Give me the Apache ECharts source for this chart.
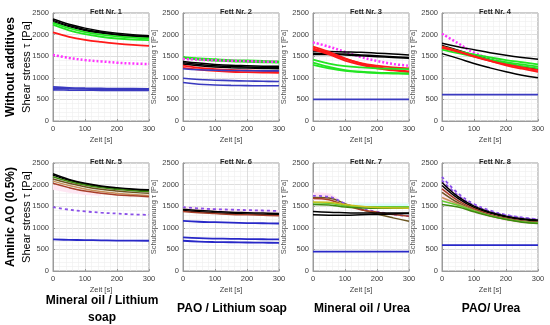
<!DOCTYPE html>
<html>
<head>
<meta charset="utf-8">
<script src="https://cdn.jsdelivr.net/npm/echarts@6/dist/echarts.min.js"></script>
<style>html,body{margin:0;padding:0;background:#fff}#c{width:550px;height:325px}</style>
</head>
<body>
<div id="c"></div>
<script>
const timeS = [0, 50, 100, 150, 200, 250, 300];
const panelTitles = ['Fett Nr. 1','Fett Nr. 2','Fett Nr. 3','Fett Nr. 4','Fett Nr. 5','Fett Nr. 6','Fett Nr. 7','Fett Nr. 8'];
const rowLabels = ['Without additives', 'Aminic AO (0.5%)'];
const colLabels = ['Mineral oil / Lithium\nsoap', 'PAO / Lithium soap', 'Mineral oil / Urea', 'PAO/ Urea'];
const yLabelMain = 'Shear stress \u03c4 [Pa]';
const yLabelSub = 'Schubspannung \u03c4 [Pa]';
const xLabel = 'Zeit [s]';

// Fett Nr. 1
const fett1 = [
  [2360, 2240, 2150, 2080, 2030, 1995, 1975],
  [2330, 2210, 2120, 2055, 2005, 1975, 1955],
  [2300, 2185, 2095, 2035, 1990, 1960, 1940],
  [2270, 2150, 2060, 2000, 1960, 1930, 1910],
  [2230, 2100, 2010, 1950, 1910, 1885, 1870],
  [2050, 1950, 1880, 1830, 1790, 1760, 1740],
  [1530, 1460, 1410, 1380, 1350, 1330, 1320],
  [790, 770, 760, 755, 750, 750, 745],
  [760, 745, 740, 735, 735, 730, 730],
  [720, 715, 712, 710, 710, 710, 710]
];
const fett1Keys = ['k','k','k','g','g','r','m','b','b','b'];

// Fett Nr. 2
const fett2 = [
  [1480, 1450, 1430, 1410, 1400, 1390, 1380],
  [1460, 1420, 1400, 1380, 1370, 1360, 1350],
  [1440, 1420, 1405, 1395, 1385, 1375, 1370],
  [1380, 1340, 1310, 1290, 1280, 1270, 1265],
  [1350, 1310, 1280, 1260, 1250, 1240, 1235],
  [1320, 1280, 1250, 1235, 1225, 1215, 1210],
  [1280, 1230, 1200, 1180, 1170, 1160, 1150],
  [1230, 1190, 1160, 1140, 1130, 1120, 1115],
  [1210, 1185, 1175, 1170, 1165, 1160, 1160],
  [990, 960, 945, 935, 925, 920, 915],
  [890, 850, 835, 825, 820, 815, 815]
];
const fett2Keys = ['g','g','m','k','k','k','r','r','b','b','b'];

// Fett Nr. 3
const fett3 = [
  [1820, 1720, 1600, 1480, 1390, 1320, 1280],
  [1620, 1610, 1600, 1590, 1570, 1550, 1530],
  [1570, 1560, 1550, 1530, 1510, 1490, 1470],
  [1540, 1540, 1530, 1510, 1490, 1470, 1450],
  [1720, 1600, 1450, 1330, 1250, 1190, 1150],
  [1680, 1570, 1440, 1340, 1280, 1240, 1220],
  [1650, 1540, 1400, 1300, 1220, 1170, 1130],
  [1420, 1330, 1270, 1240, 1220, 1210, 1200],
  [1350, 1250, 1180, 1140, 1120, 1110, 1100],
  [1300, 1220, 1160, 1130, 1110, 1100, 1090],
  [500, 500, 500, 500, 500, 500, 500]
];
const fett3Keys = ['m','k','k','k','r','r','r','g','g','g','b'];

// Fett Nr. 4
const fett4 = [
  [2020, 1800, 1580, 1450, 1340, 1250, 1180],
  [1800, 1720, 1650, 1580, 1520, 1470, 1430],
  [1750, 1640, 1520, 1420, 1330, 1260, 1200],
  [1560, 1450, 1330, 1230, 1140, 1060, 1000],
  [1700, 1620, 1540, 1470, 1410, 1360, 1310],
  [1650, 1570, 1490, 1420, 1360, 1310, 1260],
  [1720, 1620, 1510, 1410, 1330, 1270, 1220],
  [1720, 1620, 1500, 1390, 1290, 1210, 1140],
  [1690, 1600, 1490, 1390, 1310, 1240, 1180],
  [610, 610, 610, 610, 610, 610, 610]
];
const fett4Keys = ['m','k','k','k','g','g','g','r','r','b'];

// Fett Nr. 5
const fett5 = [
  [2250, 2120, 2030, 1970, 1930, 1900, 1880],
  [2220, 2100, 2010, 1950, 1910, 1880, 1860],
  [2180, 2070, 1990, 1930, 1890, 1860, 1840],
  [2130, 2030, 1950, 1890, 1850, 1820, 1800],
  [2080, 1980, 1900, 1840, 1800, 1770, 1750],
  [2030, 1930, 1850, 1800, 1760, 1740, 1720],
  [1480, 1420, 1380, 1350, 1330, 1310, 1300],
  [730, 720, 715, 710, 705, 705, 700]
];
const fett5Keys = ['k','k','dg','ol','tan','rb','pd','b2'];

// Fett Nr. 6
const fett6 = [
  [1480, 1450, 1430, 1420, 1410, 1400, 1390],
  [1430, 1400, 1380, 1360, 1350, 1340, 1330],
  [1400, 1370, 1350, 1330, 1320, 1310, 1300],
  [1380, 1350, 1330, 1310, 1300, 1290, 1280],
  [1160, 1140, 1130, 1120, 1110, 1105, 1100],
  [780, 760, 750, 745, 740, 735, 730],
  [700, 680, 670, 665, 660, 655, 650]
];
const fett6Keys = ['pd','k','k','rb','b2','b2','b2'];

// Fett Nr. 7
const fett7 = [
  [1700, 1690, 1560, 1430, 1320, 1230, 1150],
  [1740, 1720, 1560, 1440, 1370, 1310, 1270],
  [1680, 1650, 1520, 1420, 1360, 1310, 1270],
  [1580, 1570, 1510, 1490, 1490, 1490, 1490],
  [1540, 1530, 1480, 1460, 1450, 1450, 1450],
  [1600, 1590, 1540, 1500, 1470, 1460, 1450],
  [1380, 1360, 1350, 1340, 1340, 1340, 1340],
  [1300, 1290, 1290, 1300, 1310, 1320, 1330],
  [450, 450, 450, 450, 450, 450, 450]
];
const fett7Keys = ['ol','pd','rb','lg','dg','yl','k','k','b2'];

// Fett Nr. 8
const fett8 = [
  [2180, 1800, 1550, 1400, 1300, 1240, 1200],
  [2100, 1750, 1520, 1380, 1290, 1230, 1190],
  [2050, 1720, 1500, 1360, 1270, 1210, 1180],
  [1980, 1680, 1470, 1340, 1250, 1190, 1160],
  [1900, 1630, 1440, 1310, 1220, 1160, 1130],
  [1820, 1580, 1410, 1290, 1210, 1150, 1120],
  [1700, 1550, 1400, 1280, 1200, 1140, 1110],
  [1620, 1520, 1390, 1280, 1200, 1140, 1110],
  [1540, 1480, 1370, 1270, 1190, 1130, 1100],
  [600, 600, 600, 600, 600, 600, 600]
];
const fett8Keys = ['pd','pd','k','k','rb','ol','tan','lg','dg','b2'];

// faint scatter bands
const band5Time = [0, 50, 100, 150];
const band5Low  = [1880, 1810, 1760, 1740];
const band5High = [2010, 1920, 1850, 1800];
const band6Time = [0, 50, 100, 150, 200, 250, 300];
const band6Low  = [1380, 1360, 1350, 1340, 1330, 1320, 1310];
const band6High = [1500, 1470, 1450, 1440, 1430, 1420, 1410];
const band7aTime = [0, 25, 50, 75];
const band7aLow  = [1640, 1640, 1620, 1560];
const band7aHigh = [1820, 1820, 1800, 1700];
const band7bTime = [125, 150, 200, 250, 300];
const band7bLow  = [1480, 1470, 1460, 1450, 1450];
const band7bHigh = [1560, 1560, 1560, 1560, 1560];
const band8Time = [0, 50, 100, 150, 200, 250, 300];
const band8Low  = [1650, 1480, 1330, 1230, 1150, 1100, 1080];
const band8High = [2100, 1780, 1540, 1400, 1300, 1240, 1200];

const bands = [
  {panel: 4, t: band5Time, lo: band5Low, hi: band5High, color: '#fde6f2'},
  {panel: 5, t: band6Time, lo: band6Low, hi: band6High, color: '#fde6f2'},
  {panel: 6, t: band7aTime, lo: band7aLow, hi: band7aHigh, color: '#fde0f1'},
  {panel: 6, t: band7bTime, lo: band7bLow, hi: band7bHigh, color: '#d9fbfa'},
  {panel: 7, t: band8Time, lo: band8Low, hi: band8High, color: '#fde6f2'}
];

const panels = [fett1, fett2, fett3, fett4, fett5, fett6, fett7, fett8];
const panelKeys = [fett1Keys, fett2Keys, fett3Keys, fett4Keys, fett5Keys, fett6Keys, fett7Keys, fett8Keys];

const styles = {
  k:  {color: '#000000', type: 'solid', width: 1.5},
  g:  {color: '#22e522', type: 'solid', width: 1.8},
  r:  {color: '#ff1a1a', type: 'solid', width: 1.8},
  m:  {color: '#ff33ff', type: [2, 2], width: 2.5},
  b:  {color: '#3a3ac0', type: 'solid', width: 1.6},
  dg: {color: '#3e8a10', type: 'solid', width: 1.5},
  lg: {color: '#66cc33', type: 'solid', width: 1.5},
  ol: {color: '#6b5520', type: 'solid', width: 1.5},
  tan:{color: '#c8905a', type: 'solid', width: 1.5},
  rb: {color: '#a8402a', type: 'solid', width: 1.5},
  yl: {color: '#c8c020', type: 'solid', width: 1.5},
  pd: {color: '#8a50e8', type: [3, 3], width: 1.8},
  b2: {color: '#2828c8', type: 'solid', width: 1.8}
};

const lefts = [53, 183, 313, 442];
const tops = [13, 163];
const W = 96, H = 108;
const FONT = 'Liberation Sans';

const grids = [], xAxes = [], yAxes = [], series = [], titles = [];
panels.forEach((lines, p) => {
  const col = p % 4, row = Math.floor(p / 4);
  grids.push({left: lefts[col], top: tops[row], width: W, height: H, show: true, borderColor: '#9a9a9a', borderWidth: 1, backgroundColor: 'transparent'});
  xAxes.push({
    gridIndex: p, type: 'value', min: 0, max: 300, interval: 100,
    name: xLabel, nameLocation: 'middle', nameGap: 15,
    nameTextStyle: {fontSize: 7.5, color: '#404040', fontFamily: FONT},
    axisLine: {show: true, lineStyle: {color: '#9a9a9a'}},
    axisTick: {show: true, inside: true, length: 2, lineStyle: {color: '#9a9a9a'}},
    axisLabel: {fontSize: 7.5, color: '#404040', margin: 4, fontFamily: FONT, formatter: v => String(v)},
    splitLine: {show: true, lineStyle: {color: '#d6d6d6', width: 0.8}},
    minorTick: {show: false, splitNumber: 5},
    minorSplitLine: {show: true, lineStyle: {color: '#efefef', width: 0.6}}
  });
  yAxes.push({
    gridIndex: p, type: 'value', min: 0, max: 2500, interval: 500,
    name: col === 0 ? '' : yLabelSub, nameLocation: 'middle', nameGap: 10,
    nameTextStyle: {fontSize: 7.5, color: '#505050', fontFamily: FONT},
    axisLine: {show: true, lineStyle: {color: '#9a9a9a'}},
    axisTick: {show: true, inside: true, length: 2, lineStyle: {color: '#9a9a9a'}},
    axisLabel: {fontSize: 7.5, color: '#404040', margin: 4, fontFamily: FONT, formatter: v => String(v)},
    splitLine: {show: true, lineStyle: {color: '#d6d6d6', width: 0.8}},
    minorTick: {show: false, splitNumber: 5},
    minorSplitLine: {show: true, lineStyle: {color: '#efefef', width: 0.6}}
  });
  titles.push({
    text: panelTitles[p], left: lefts[col] + W / 2, top: tops[row] - 10, textAlign: 'center',
    textStyle: {fontSize: 7.5, fontWeight: 'bold', color: '#222', fontFamily: FONT}
  });
  lines.forEach((vals, i) => {
    const st = styles[panelKeys[p][i]];
    series.push({
      type: 'line', xAxisIndex: p, yAxisIndex: p, smooth: 0.4, symbol: 'none',
      data: timeS.map((t, j) => [t, vals[j]]),
      lineStyle: {color: st.color, type: st.type, width: st.width},
      z: 3, silent: true, animation: false
    });
  });
});

bands.forEach((b) => {
  series.push({
    type: 'custom', xAxisIndex: b.panel, yAxisIndex: b.panel, z: 1, silent: true,
    data: b.t.map((t, j) => [t, b.lo[j], b.hi[j]]),
    renderItem: (params, api) => {
      if (params.dataIndex !== 0) return null;
      const upper = b.t.map((t, j) => api.coord([t, b.hi[j]]));
      const lower = b.t.map((t, j) => api.coord([t, b.lo[j]])).reverse();
      return {type: 'polygon', shape: {points: upper.concat(lower)}, style: {fill: b.color, stroke: null}};
    }
  });
});

const graphics = [];
rowLabels.forEach((txt, r) => {
  graphics.push({type: 'text', x: 11, y: tops[r] + H / 2, rotation: Math.PI / 2,
    style: {text: txt, font: 'bold 12px "Liberation Sans"', fill: '#000', textAlign: 'center', textVerticalAlign: 'middle'}});
  graphics.push({type: 'text', x: 27, y: tops[r] + H / 2, rotation: Math.PI / 2,
    style: {text: yLabelMain, font: '11px "Liberation Sans"', fill: '#000', textAlign: 'center', textVerticalAlign: 'middle'}});
});
const colCenters = [102, 232, 362, 491];
colLabels.forEach((txt, c) => {
  graphics.push({type: 'text', x: colCenters[c], y: 309,
    style: {text: txt, font: 'bold 12px "Liberation Sans"', fill: '#000', textAlign: 'center', textVerticalAlign: 'middle', lineHeight: 17}});
});

const chart = echarts.init(document.getElementById('c'), null, {renderer: 'canvas'});
chart.setOption({
  animation: false,
  title: titles,
  grid: grids,
  xAxis: xAxes,
  yAxis: yAxes,
  series: series,
  graphic: graphics
});
</script>
</body>
</html>
